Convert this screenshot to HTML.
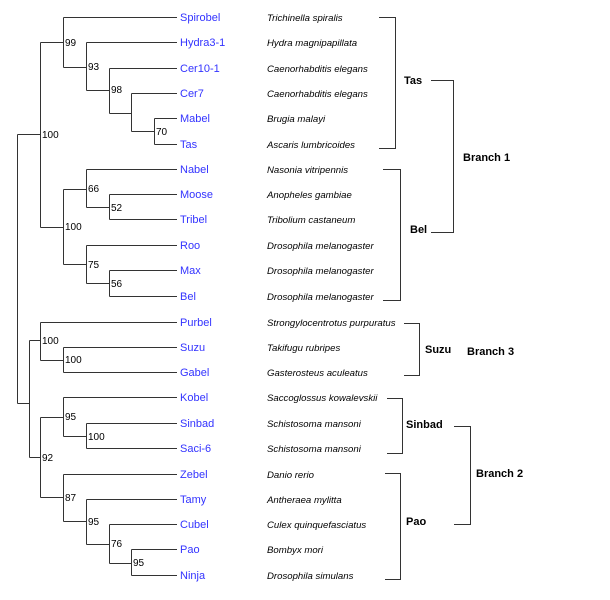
<!DOCTYPE html>
<html><head><meta charset="utf-8"><style>
body{margin:0;background:#fff}
svg{display:block}
.n{font:11px "Liberation Sans",sans-serif;fill:#3333ff}
.s{font:italic 9.6px "Liberation Sans",sans-serif;fill:#000}
.b{font:10px "Liberation Sans",sans-serif;fill:#000}
.g{font:bold 11px "Liberation Sans",sans-serif;fill:#000}
</style></head><body>
<svg width="610" height="600" viewBox="0 0 610 600" xmlns="http://www.w3.org/2000/svg">
<g stroke="#333" stroke-width="1" fill="none" shape-rendering="crispEdges">
<!-- root -->
<path d="M17.5 134.5V403.5M17.5 134.5H40.5M17.5 403.5H29.5"/>
<!-- Branch1 clade -->
<path d="M40.5 42.5V227.5M40.5 42.5H63.5M40.5 227.5H63.5"/>
<path d="M63.5 17.5V67.5M63.5 17.5H177M63.5 67.5H86.5"/>
<path d="M86.5 42.5V90.5M86.5 42.5H177M86.5 90.5H109.5"/>
<path d="M109.5 68.5V113.5M109.5 68.5H177M109.5 113.5H131.5"/>
<path d="M131.5 93.5V131.5M131.5 93.5H177M131.5 131.5H154.5"/>
<path d="M154.5 118.5V144.5M154.5 118.5H177M154.5 144.5H177"/>
<path d="M63.5 189.5V264.5M63.5 189.5H86.5M63.5 264.5H86.5"/>
<path d="M86.5 169.5V207.5M86.5 169.5H177M86.5 207.5H109.5"/>
<path d="M109.5 194.5V219.5M109.5 194.5H177M109.5 219.5H177"/>
<path d="M86.5 245.5V283.5M86.5 245.5H177M86.5 283.5H109.5"/>
<path d="M109.5 270.5V296.5M109.5 270.5H177M109.5 296.5H177"/>
<!-- lower -->
<path d="M29.5 340.5V457.5M29.5 340.5H40.5M29.5 457.5H40.5"/>
<path d="M40.5 322.5V360.5M40.5 322.5H177M40.5 360.5H63.5"/>
<path d="M63.5 347.5V372.5M63.5 347.5H177M63.5 372.5H177"/>
<path d="M40.5 417.5V497.5M40.5 417.5H63.5M40.5 497.5H63.5"/>
<path d="M63.5 397.5V436.5M63.5 397.5H177M63.5 436.5H86.5"/>
<path d="M86.5 423.5V448.5M86.5 423.5H177M86.5 448.5H177"/>
<path d="M63.5 474.5V521.5M63.5 474.5H177M63.5 521.5H86.5"/>
<path d="M86.5 499.5V544.5M86.5 499.5H177M86.5 544.5H109.5"/>
<path d="M109.5 524.5V563.5M109.5 524.5H177M109.5 563.5H131.5"/>
<path d="M131.5 549.5V575.5M131.5 549.5H177M131.5 575.5H177"/>
<!-- brackets -->
<path d="M379 17.5H395.5V148.5H379"/>
<path d="M431 80.5H453.5V232.5H431"/>
<path d="M383 169.5H400.5V300.5H383"/>
<path d="M404 323.5H419.5V375.5H404"/>
<path d="M387 398.5H402.5V453.5H387"/>
<path d="M454 426.5H470.5V524.5H454"/>
<path d="M385 473.5H400.5V579.5H385"/>
</g>
<g class="b">
<text x="42" y="138">100</text>
<text x="65" y="46">99</text>
<text x="88" y="70">93</text>
<text x="111" y="93">98</text>
<text x="156" y="135">70</text>
<text x="65" y="230">100</text>
<text x="88" y="192">66</text>
<text x="111" y="211">52</text>
<text x="88" y="268">75</text>
<text x="111" y="287">56</text>
<text x="42" y="344">100</text>
<text x="65" y="363">100</text>
<text x="42" y="461">92</text>
<text x="65" y="420">95</text>
<text x="88" y="440">100</text>
<text x="65" y="501">87</text>
<text x="88" y="525">95</text>
<text x="111" y="547">76</text>
<text x="133" y="566">95</text>
</g>
<g class="n">
<text x="180" y="21">Spirobel</text>
<text x="180" y="46">Hydra3-1</text>
<text x="180" y="72">Cer10-1</text>
<text x="180" y="97">Cer7</text>
<text x="180" y="122">Mabel</text>
<text x="180" y="148">Tas</text>
<text x="180" y="173">Nabel</text>
<text x="180" y="198">Moose</text>
<text x="180" y="223">Tribel</text>
<text x="180" y="249">Roo</text>
<text x="180" y="274">Max</text>
<text x="180" y="300">Bel</text>
<text x="180" y="326">Purbel</text>
<text x="180" y="351">Suzu</text>
<text x="180" y="376">Gabel</text>
<text x="180" y="401">Kobel</text>
<text x="180" y="427">Sinbad</text>
<text x="180" y="452">Saci-6</text>
<text x="180" y="478">Zebel</text>
<text x="180" y="503">Tamy</text>
<text x="180" y="528">Cubel</text>
<text x="180" y="553">Pao</text>
<text x="180" y="579">Ninja</text>
</g>
<g class="s">
<text x="267" y="21">Trichinella spiralis</text>
<text x="267" y="46">Hydra magnipapillata</text>
<text x="267" y="72">Caenorhabditis elegans</text>
<text x="267" y="97">Caenorhabditis elegans</text>
<text x="267" y="122">Brugia malayi</text>
<text x="267" y="148">Ascaris lumbricoides</text>
<text x="267" y="173">Nasonia vitripennis</text>
<text x="267" y="198">Anopheles gambiae</text>
<text x="267" y="223">Tribolium castaneum</text>
<text x="267" y="249">Drosophila melanogaster</text>
<text x="267" y="274">Drosophila melanogaster</text>
<text x="267" y="300">Drosophila melanogaster</text>
<text x="267" y="326">Strongylocentrotus purpuratus</text>
<text x="267" y="351">Takifugu rubripes</text>
<text x="267" y="376">Gasterosteus aculeatus</text>
<text x="267" y="401">Saccoglossus kowalevskii</text>
<text x="267" y="427">Schistosoma mansoni</text>
<text x="267" y="452">Schistosoma mansoni</text>
<text x="267" y="478">Danio rerio</text>
<text x="267" y="503">Antheraea mylitta</text>
<text x="267" y="528">Culex quinquefasciatus</text>
<text x="267" y="553">Bombyx mori</text>
<text x="267" y="579">Drosophila simulans</text>
</g>
<g class="g">
<text x="404" y="84">Tas</text>
<text x="410" y="233">Bel</text>
<text x="463" y="161">Branch 1</text>
<text x="425" y="353">Suzu</text>
<text x="467" y="355">Branch 3</text>
<text x="406" y="428">Sinbad</text>
<text x="476" y="477">Branch 2</text>
<text x="406" y="525">Pao</text>
</g>
</svg>
</body></html>
